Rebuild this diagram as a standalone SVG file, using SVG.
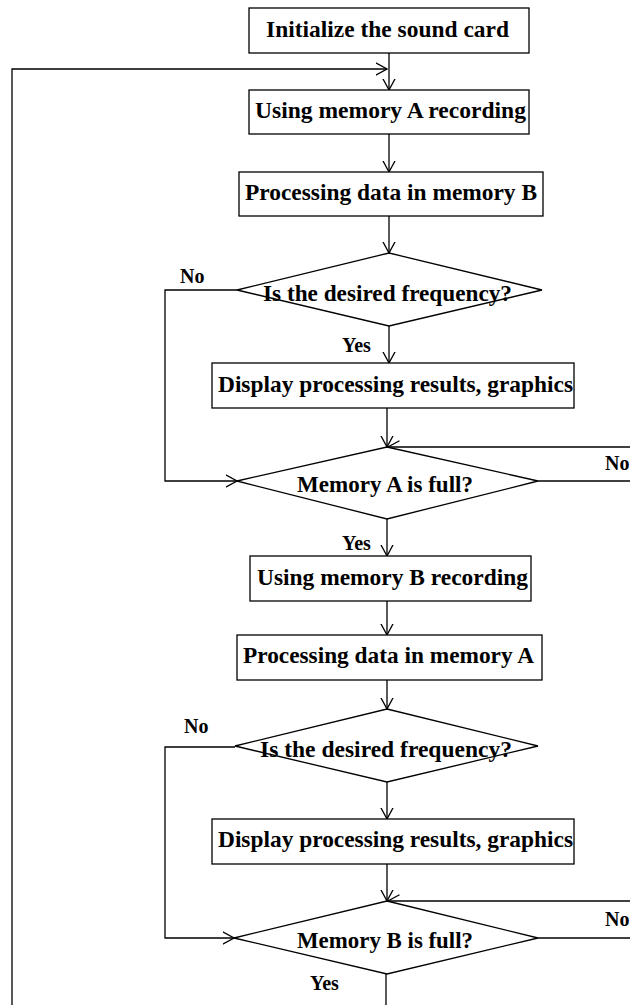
<svg xmlns="http://www.w3.org/2000/svg" width="630" height="1005" viewBox="0 0 630 1005">
  <style>
    .box { fill: #ffffff; stroke: #000000; stroke-width: 1.3; }
    .dec { fill: #ffffff; stroke: #000000; stroke-width: 1.3; }
    .wire { fill: none; stroke: #000000; stroke-width: 1.3; }
    .arr { marker-end: url(#open); }
    .t { font-family: "Liberation Serif", "Times New Roman", serif; font-weight: bold; font-size: 23px; fill: #000000; }
    .lbl { font-family: "Liberation Serif", "Times New Roman", serif; font-weight: bold; font-size: 20px; fill: #000000; }
  </style>
  <defs>
    <marker id="open" viewBox="0 0 12 14" refX="11.5" refY="7" markerWidth="12" markerHeight="14" markerUnits="userSpaceOnUse" orient="auto">
      <path d="M0,0.8 L11.5,7 L0,13.2" fill="none" stroke="#000000" stroke-width="1.3"/>
    </marker>
  </defs>
  <rect width="630" height="1005" fill="#ffffff"/>

  <!-- connectors -->
  <g id="connectors">
    <line class="wire arr" x1="389" y1="53" x2="389" y2="90"/>
    <polyline class="wire arr" points="12,1005 12,69 387,69"/>
    <line class="wire arr" x1="389" y1="134" x2="389" y2="172"/>
    <line class="wire arr" x1="389" y1="216" x2="389" y2="253"/>
    <line class="wire arr" x1="389" y1="326" x2="389" y2="363"/>
    <line class="wire arr" x1="387" y1="408" x2="387" y2="447"/>
    <polyline class="wire arr" points="237,290 165,290 165,481 237,481"/>
    <line class="wire" x1="538" y1="481" x2="630" y2="481"/>
    <line class="wire arr" x1="630" y1="447" x2="388" y2="447"/>
    <line class="wire arr" x1="387" y1="519" x2="387" y2="556"/>
    <line class="wire arr" x1="387" y1="601" x2="387" y2="635"/>
    <line class="wire arr" x1="387" y1="680" x2="387" y2="709"/>
    <line class="wire arr" x1="387" y1="782" x2="387" y2="819"/>
    <line class="wire arr" x1="387" y1="864" x2="387" y2="901"/>
    <polyline class="wire arr" points="235,747 165,747 165,938 234,938"/>
    <line class="wire" x1="538" y1="938" x2="630" y2="938"/>
    <line class="wire arr" x1="630" y1="901" x2="388" y2="901"/>
    <line class="wire" x1="386" y1="974" x2="386" y2="1005"/>
  </g>

  <!-- nodes -->
  <g id="init">
    <rect class="box" x="249" y="8" width="280" height="45"/>
    <text class="t" x="266" y="37" textLength="243" lengthAdjust="spacingAndGlyphs">Initialize the sound card</text>
  </g>
  <g id="recA">
    <rect class="box" x="249" y="90" width="280" height="44"/>
    <text class="t" x="255" y="118" textLength="271" lengthAdjust="spacingAndGlyphs">Using memory A recording</text>
  </g>
  <g id="procB">
    <rect class="box" x="239" y="172" width="304" height="44"/>
    <text class="t" x="245" y="200" textLength="292" lengthAdjust="spacingAndGlyphs">Processing data in memory B</text>
  </g>
  <g id="freq1">
    <polygon class="dec" points="389,253 542,290 389,326 237,290"/>
    <text class="t" x="263" y="301" textLength="249" lengthAdjust="spacingAndGlyphs">Is the desired frequency?</text>
  </g>
  <g id="show1">
    <rect class="box" x="212" y="363" width="362" height="45"/>
    <text class="t" x="218" y="392" textLength="355" lengthAdjust="spacingAndGlyphs">Display processing results, graphics</text>
  </g>
  <g id="fullA">
    <polygon class="dec" points="387,447 538,481 387,519 237,481"/>
    <text class="t" x="297" y="492" textLength="176" lengthAdjust="spacingAndGlyphs">Memory A is full?</text>
  </g>
  <g id="recB">
    <rect class="box" x="250" y="556" width="281" height="45"/>
    <text class="t" x="257" y="585" textLength="271" lengthAdjust="spacingAndGlyphs">Using memory B recording</text>
  </g>
  <g id="procA">
    <rect class="box" x="237" y="635" width="305" height="45"/>
    <text class="t" x="243" y="663" textLength="291" lengthAdjust="spacingAndGlyphs">Processing data in memory A</text>
  </g>
  <g id="freq2">
    <polygon class="dec" points="387,709 538,746 387,782 235,746"/>
    <text class="t" x="260" y="757" textLength="252" lengthAdjust="spacingAndGlyphs">Is the desired frequency?</text>
  </g>
  <g id="show2">
    <rect class="box" x="212" y="819" width="362" height="45"/>
    <text class="t" x="218" y="847" textLength="355" lengthAdjust="spacingAndGlyphs">Display processing results, graphics</text>
  </g>
  <g id="fullB">
    <polygon class="dec" points="387,901 538,938 387,974 234,938"/>
    <text class="t" x="297" y="948" textLength="176" lengthAdjust="spacingAndGlyphs">Memory B is full?</text>
  </g>

  <!-- branch labels -->
  <g id="labels">
    <text class="lbl" x="180" y="283">No</text>
    <text class="lbl" x="342" y="352">Yes</text>
    <text class="lbl" x="605" y="470">No</text>
    <text class="lbl" x="342" y="550">Yes</text>
    <text class="lbl" x="184" y="733">No</text>
    <text class="lbl" x="605" y="926">No</text>
    <text class="lbl" x="310" y="990">Yes</text>
  </g>
</svg>
